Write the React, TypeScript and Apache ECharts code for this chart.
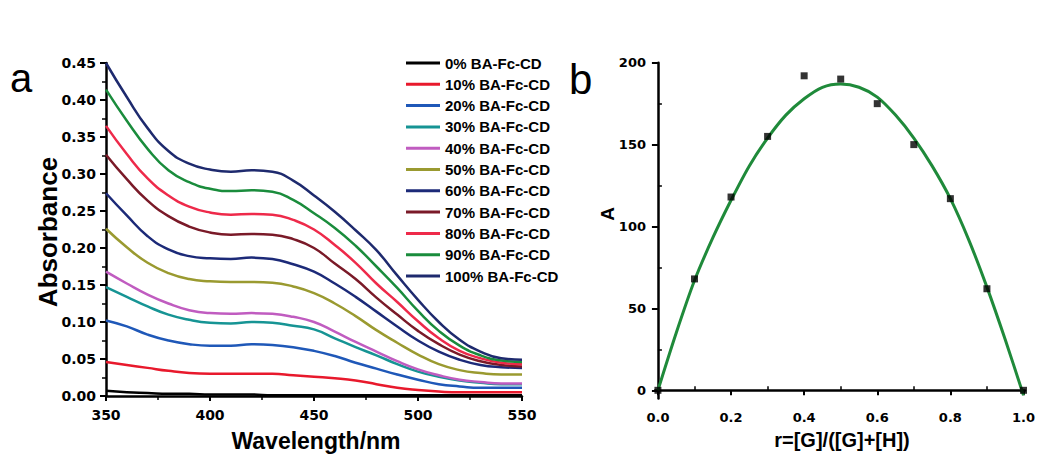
import React, { useEffect, useRef } from "react";
import * as echarts from "echarts";

// ---------- Panel a: absorption spectra ----------
const wavelengths = [350, 360, 370, 380, 390, 400, 410, 420, 430, 440, 450, 460, 470, 480, 490, 500, 510, 520, 530, 540, 550];

const abs0 = [0.007, 0.005, 0.004, 0.003, 0.003, 0.002, 0.002, 0.002, 0.001, 0.001, 0.001, 0.001, 0.001, 0.001, 0.001, 0.001, 0.001, 0.001, 0.001, 0.001, 0.001];
const abs10 = [0.046, 0.042, 0.038, 0.034, 0.031, 0.030, 0.030, 0.030, 0.030, 0.028, 0.026, 0.024, 0.021, 0.016, 0.011, 0.008, 0.006, 0.005, 0.005, 0.005, 0.005];
const abs20 = [0.102, 0.094, 0.083, 0.075, 0.070, 0.068, 0.068, 0.070, 0.069, 0.066, 0.061, 0.054, 0.045, 0.037, 0.029, 0.022, 0.016, 0.013, 0.011, 0.011, 0.011];
const abs30 = [0.147, 0.134, 0.121, 0.110, 0.103, 0.099, 0.098, 0.100, 0.099, 0.095, 0.090, 0.078, 0.066, 0.055, 0.043, 0.033, 0.026, 0.021, 0.018, 0.016, 0.016];
const abs40 = [0.168, 0.152, 0.137, 0.125, 0.116, 0.112, 0.111, 0.112, 0.111, 0.107, 0.100, 0.087, 0.073, 0.060, 0.047, 0.036, 0.028, 0.022, 0.019, 0.017, 0.017];
const abs50 = [0.226, 0.201, 0.180, 0.166, 0.158, 0.155, 0.154, 0.154, 0.153, 0.148, 0.139, 0.125, 0.108, 0.089, 0.072, 0.056, 0.043, 0.035, 0.031, 0.029, 0.029];
const abs60 = [0.274, 0.244, 0.216, 0.198, 0.189, 0.186, 0.185, 0.187, 0.185, 0.178, 0.168, 0.152, 0.134, 0.114, 0.094, 0.075, 0.060, 0.049, 0.042, 0.039, 0.038];
const abs70 = [0.326, 0.293, 0.264, 0.243, 0.229, 0.221, 0.218, 0.219, 0.218, 0.212, 0.200, 0.179, 0.158, 0.133, 0.110, 0.088, 0.070, 0.056, 0.047, 0.042, 0.040];
const abs80 = [0.365, 0.327, 0.294, 0.271, 0.256, 0.248, 0.245, 0.246, 0.245, 0.238, 0.225, 0.204, 0.180, 0.152, 0.127, 0.101, 0.078, 0.061, 0.051, 0.045, 0.043];
const abs90 = [0.414, 0.372, 0.334, 0.305, 0.289, 0.280, 0.277, 0.278, 0.276, 0.265, 0.247, 0.227, 0.203, 0.175, 0.146, 0.115, 0.088, 0.068, 0.055, 0.048, 0.046];
const abs100 = [0.450, 0.404, 0.362, 0.331, 0.314, 0.306, 0.303, 0.305, 0.303, 0.291, 0.271, 0.249, 0.224, 0.197, 0.163, 0.130, 0.100, 0.076, 0.060, 0.051, 0.049];

const spectra = [abs0, abs10, abs20, abs30, abs40, abs50, abs60, abs70, abs80, abs90, abs100];
const spectraNames = [
  "0% BA-Fc-CD", "10% BA-Fc-CD", "20% BA-Fc-CD", "30% BA-Fc-CD", "40% BA-Fc-CD", "50% BA-Fc-CD",
  "60% BA-Fc-CD", "70% BA-Fc-CD", "80% BA-Fc-CD", "90% BA-Fc-CD", "100% BA-Fc-CD",
];
const spectraColors = [
  "#000000", "#e8192c", "#1f58b8", "#169494", "#c05cc0", "#9a9a30",
  "#1c2a78", "#7a1a28", "#ee2a4a", "#1a8c3c", "#1e2a6e",
];

// ---------- Panel b: Job plot ----------
const ratio = [0, 0.1, 0.2, 0.3, 0.4, 0.5, 0.6, 0.7, 0.8, 0.9, 1.0];
const absA = [0, 68, 118, 155, 192, 190, 175, 150, 117, 62, 0];
const fitR = [0, 0.05, 0.1, 0.15, 0.2, 0.25, 0.3, 0.35, 0.4, 0.45, 0.5, 0.55, 0.6, 0.65, 0.7, 0.75, 0.8, 0.85, 0.9, 0.95, 1.0];
const fitA = [0, 35, 67, 93, 116, 137, 154, 168, 178, 185, 187, 185, 179, 168, 154, 137, 117, 92, 63, 31, -3];
const rMajor = [0, 0.2, 0.4, 0.6, 0.8, 1.0];
const rMinor = [0.1, 0.3, 0.5, 0.7, 0.9];
const aMajor = [0, 50, 100, 150, 200];
const aMinor = [25, 75, 125, 175];

const tickFont = "DejaVu Sans";
const titleFont = "'Liberation Sans', Arial, sans-serif";

export default function App() {
  const ref = useRef<HTMLDivElement>(null);

  useEffect(() => {
    if (!ref.current) return;
    const chart = echarts.init(ref.current, null, { renderer: "svg" });

    const axisLine = { show: true, lineStyle: { color: "#000", width: 2.5 } };
    const tickLabel = (fs: number) => ({
      fontFamily: tickFont,
      fontWeight: "bold" as const,
      fontSize: fs,
      color: "#000",
    });

    const lineSeries = spectra.map((arr, i) => ({
      name: spectraNames[i],
      type: "line",
      xAxisIndex: 0,
      yAxisIndex: 0,
      data: wavelengths.map((w, j) => [w, arr[j]]),
      smooth: 0.5,
      showSymbol: false,
      symbol: "none",
      color: spectraColors[i],
      lineStyle: { width: 2.5, color: spectraColors[i] },
      z: 2,
    }));

    const option: any = {
      animation: false,
      backgroundColor: "#ffffff",
      grid: [
        { left: 106, top: 63, width: 416, height: 333 },
        { left: 655, top: 62.7, width: 373, height: 335.8 },
      ],
      legend: {
        data: spectraNames,
        orient: "vertical",
        left: 401,
        top: 50,
        itemWidth: 34,
        itemHeight: 3,
        itemGap: 5.3,
        icon: "rect",
        selectedMode: false,
        textStyle: {
          fontFamily: titleFont,
          fontWeight: "bold",
          fontSize: 15,
          color: "#000",
          lineHeight: 16,
        },
      },
      xAxis: [
        {
          gridIndex: 0,
          type: "value",
          min: 350,
          max: 550,
          interval: 50,
          axisLine,
          axisTick: { show: true, length: 5, lineStyle: { color: "#000", width: 2 } },
          minorTick: { show: true, splitNumber: 2, length: 4, lineStyle: { color: "#000", width: 1.5 } },
          splitLine: { show: false },
          axisLabel: { margin: 12, ...tickLabel(14) },
        },
        {
          gridIndex: 1,
          type: "value",
          min: -0.008,
          max: 1.004,
          axisLine,
          axisTick: { show: true, length: 5, customValues: rMajor, lineStyle: { color: "#000", width: 2 } },
          splitLine: { show: false },
          axisLabel: {
            margin: 12,
            customValues: rMajor,
            formatter: (v: number) => Number(v).toFixed(1),
            ...tickLabel(13),
          },
        },
        {
          gridIndex: 1,
          type: "value",
          min: -0.008,
          max: 1.004,
          axisLine: { show: false },
          axisTick: { show: true, length: 4, customValues: rMinor, lineStyle: { color: "#000", width: 1.5 } },
          splitLine: { show: false },
          axisLabel: { show: false },
        },
      ],
      yAxis: [
        {
          gridIndex: 0,
          type: "value",
          min: 0,
          max: 0.45,
          interval: 0.05,
          axisLine,
          axisTick: { show: true, length: 6, lineStyle: { color: "#000", width: 2 } },
          minorTick: { show: true, splitNumber: 2, length: 4, lineStyle: { color: "#000", width: 1.5 } },
          splitLine: { show: false },
          axisLabel: {
            margin: 10,
            formatter: (v: number) => Number(v).toFixed(2),
            ...tickLabel(14),
          },
        },
        {
          gridIndex: 1,
          type: "value",
          min: -5,
          max: 200,
          axisLine,
          axisTick: { show: true, length: 6, customValues: aMajor, lineStyle: { color: "#000", width: 2 } },
          splitLine: { show: false },
          axisLabel: { margin: 9, customValues: aMajor, ...tickLabel(13) },
        },
        {
          gridIndex: 1,
          type: "value",
          min: -5,
          max: 200,
          axisLine: { show: false },
          axisTick: { show: true, length: 4, customValues: aMinor, lineStyle: { color: "#000", width: 1.5 } },
          splitLine: { show: false },
          axisLabel: { show: false },
        },
      ],
      series: [
        ...lineSeries,
        {
          name: "fit",
          type: "line",
          xAxisIndex: 1,
          yAxisIndex: 1,
          data: fitR.map((r, i) => [r, fitA[i]]),
          smooth: 0.3,
          showSymbol: false,
          symbol: "none",
          clip: false,
          lineStyle: { width: 3, color: "#1f8a3a" },
          z: 2,
        },
        {
          name: "A",
          type: "scatter",
          xAxisIndex: 1,
          yAxisIndex: 1,
          data: ratio.map((r, i) => [r, absA[i]]),
          symbol: "rect",
          symbolSize: 7,
          clip: false,
          itemStyle: { color: "#000" },
          z: 3,
        },
      ],
      graphic: [
        {
          type: "text",
          left: 10,
          top: 58,
          style: { text: "a", font: `normal 40px ${titleFont}`, fill: "#000" },
        },
        {
          type: "text",
          left: 569,
          top: 58,
          style: { text: "b", font: `normal 42px ${titleFont}`, fill: "#000" },
        },
        {
          type: "text",
          x: 48,
          y: 232,
          rotation: Math.PI / 2,
          style: {
            text: "Absorbance",
            font: `bold 26px ${titleFont}`,
            fill: "#000",
            align: "center",
            verticalAlign: "middle",
          },
        },
        {
          type: "text",
          x: 316,
          y: 441,
          style: {
            text: "Wavelength/nm",
            font: `bold 23px ${titleFont}`,
            fill: "#000",
            align: "center",
            verticalAlign: "middle",
          },
        },
        {
          type: "text",
          x: 607,
          y: 214,
          rotation: Math.PI / 2,
          style: {
            text: "A",
            font: `bold 19px ${titleFont}`,
            fill: "#000",
            align: "center",
            verticalAlign: "middle",
          },
        },
        {
          type: "text",
          x: 842,
          y: 440,
          style: {
            text: "r=[G]/([G]+[H])",
            font: `bold 20px ${titleFont}`,
            fill: "#000",
            align: "center",
            verticalAlign: "middle",
          },
        },
      ],
    };

    chart.setOption(option);
    return () => chart.dispose();
  }, []);

  return (
    <div
      ref={ref}
      style={{ position: "absolute", left: 0, top: 0, width: 1038, height: 455, background: "#fff" }}
    />
  );
}
